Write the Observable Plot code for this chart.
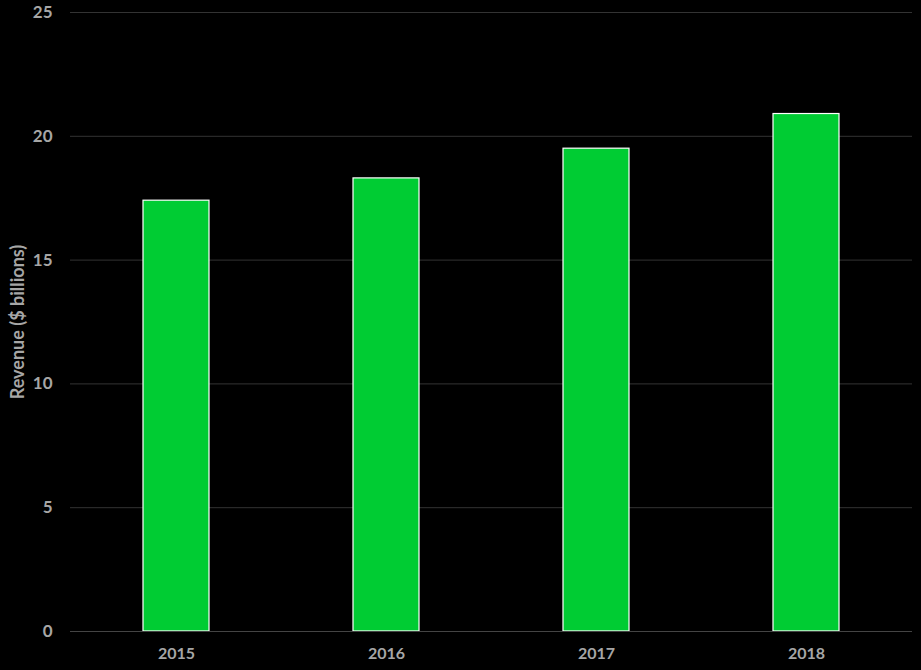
<!DOCTYPE html>
<html>
<head>
<meta charset="utf-8">
<script src="https://cdn.jsdelivr.net/npm/d3@7"></script>
<script src="https://cdn.jsdelivr.net/npm/@observablehq/plot@0.6"></script>
<style>
  html, body { margin: 0; padding: 0; background: #000; }
  #chart svg { display: block; }
</style>
</head>
<body>
<div id="chart"></div>
<script>
const years = ["2015", "2016", "2017", "2018"];
const revenue = [17.4, 18.3, 19.5, 20.9];
const yTicks = [0, 5, 10, 15, 20, 25];
const yLabel = "Revenue ($ billions)";

const data = years.map((y, i) => ({year: y, value: revenue[i]}));

const chart = Plot.plot({
  width: 921,
  height: 670,
  marginLeft: 70,
  marginRight: 9,
  marginTop: 12,
  marginBottom: 39,
  style: {background: "#000", fontFamily: "Lato, 'Open Sans', sans-serif"},
  x: {domain: years, paddingInner: 0.686, paddingOuter: 0.343, label: null},
  y: {domain: [0, 25], ticks: yTicks, label: null},
  marks: [
    Plot.gridY(yTicks, {stroke: "#333333", strokeOpacity: 1, strokeWidth: 1}),
    Plot.barY(data, {x: "year", y: "value", fill: "#00CC33", stroke: "#ffffff", strokeWidth: 1.2}),
    Plot.ruleY([0], {stroke: "#444444", strokeWidth: 1.2}),
    Plot.axisY(yTicks, {tickSize: 0, tickPadding: 18, fill: "#A6A6A6", fontSize: 17, fontWeight: "bold", label: null}),
    Plot.axisX({tickSize: 0, tickPadding: 16, fill: "#A6A6A6", fontSize: 16, fontWeight: "bold", label: null}),
    Plot.text([yLabel], {frameAnchor: "left", dx: -52, rotate: -90, text: d => d, fill: "#A6A6A6", fontSize: 18, fontWeight: "bold", textAnchor: "middle"})
  ]
});
document.getElementById("chart").appendChild(chart);
</script>
</body>
</html>
